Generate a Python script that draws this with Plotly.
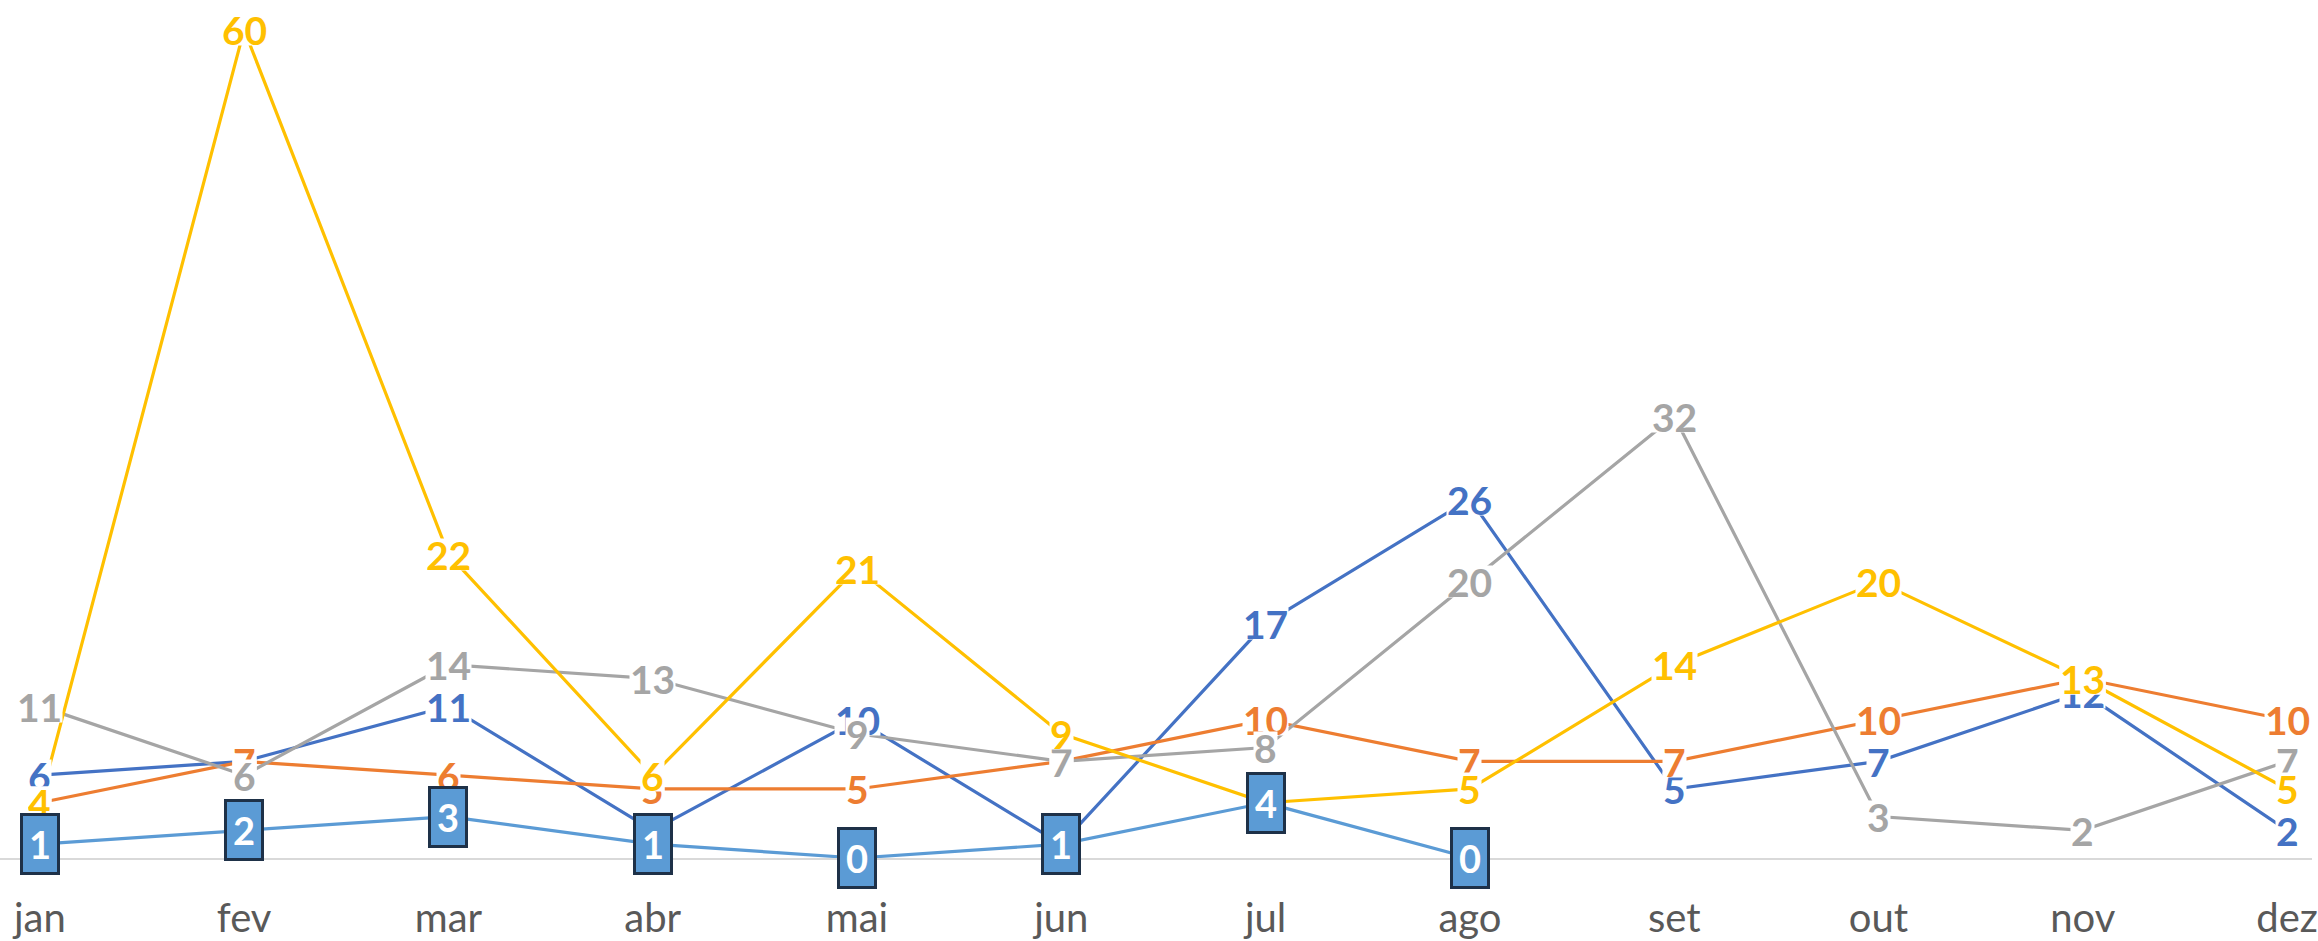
import plotly.graph_objects as go

months = ["jan", "fev", "mar", "abr", "mai", "jun", "jul", "ago", "set", "out", "nov", "dez"]

serie_azul = [6, 7, 11, 2, 10, 1, 17, 26, 5, 7, 12, 2]
serie_laranja = [4, 7, 6, 5, 5, 7, 10, 7, 7, 10, 13, 10]
serie_cinza = [11, 6, 14, 13, 9, 7, 8, 20, 32, 3, 2, 7]
serie_amarela = [4, 60, 22, 6, 21, 9, 4, 5, 14, 20, 13, 5]
serie_azul_claro = [1, 2, 3, 1, 0, 1, 4, 0, None, None, None, None]

series = [
    ("Série 1", serie_azul, "#4472C4"),
    ("Série 2", serie_laranja, "#ED7D31"),
    ("Série 3", serie_cinza, "#A5A5A5"),
    ("Série 4", serie_amarela, "#FFC000"),
    ("Série 5", serie_azul_claro, "#5B9BD5"),
]

FONT = "Lato, 'Open Sans', sans-serif"

fig = go.Figure()
annotations = []
for name, vals, color in series:
    fig.add_trace(go.Scatter(
        x=months, y=vals, mode="lines", name=name,
        line=dict(color=color, width=3.2), cliponaxis=False,
        connectgaps=False, hoverinfo="x+y",
    ))

for name, vals, color in series:
    boxed = name == "Série 5"
    for m, v in zip(months, vals):
        if v is None:
            continue
        if boxed:
            annotations.append(dict(
                x=m, y=v, xref="x", yref="y", text=str(v), showarrow=False,
                xanchor="center", yanchor="middle",
                font=dict(family=FONT, size=38, color="white", weight="bold"),
                bgcolor="#5B9BD5", bordercolor="#1E3148", borderwidth=3,
                borderpad=2, width=30, height=52,
            ))
        else:
            annotations.append(dict(
                x=m, y=v, xref="x", yref="y", text=str(v), showarrow=False,
                xanchor="center", yanchor="middle",
                font=dict(family=FONT, size=39, color=color, weight="bold"),
                bgcolor="white", borderpad=0, height=31,
            ))

fig.update_layout(
    width=2318, height=941,
    margin=dict(l=0, r=0, t=0, b=75),
    paper_bgcolor="white", plot_bgcolor="white",
    showlegend=False,
    annotations=annotations,
    xaxis=dict(
        type="category", range=[-0.195, 11.122],
        showgrid=False, zeroline=False,
        showline=True, linecolor="#D9D9D9", linewidth=2,
        ticks="", ticklabelstandoff=24,
        tickfont=dict(family=FONT, size=40, color="#595959"),
    ),
    yaxis=dict(
        range=[0, 62.15], showgrid=False, zeroline=False,
        showticklabels=False, showline=False,
    ),
)

fig.write_html(
    "out.html",
    config={"displayModeBar": False},
    post_script="document.body.style.margin='0';document.body.style.overflow='hidden';",
)
